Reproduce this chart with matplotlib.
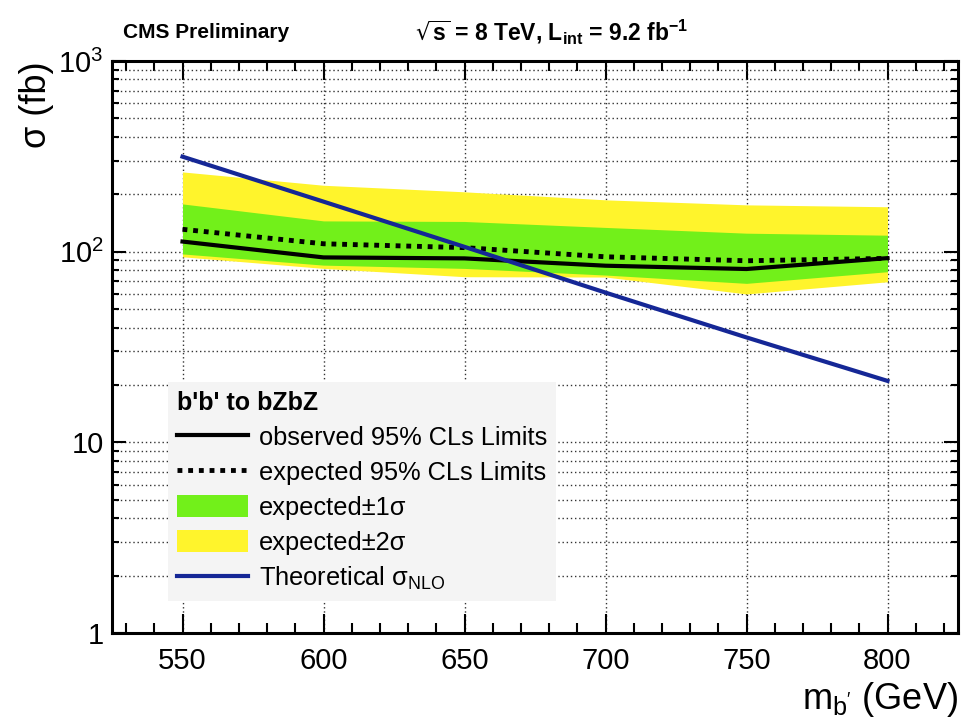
import matplotlib
matplotlib.use("Agg")
import matplotlib.pyplot as plt
from matplotlib.ticker import FixedLocator, LogLocator, NullFormatter, FuncFormatter
import numpy as np

plt.rcParams['font.family'] = ['Liberation Sans', 'DejaVu Sans']
plt.rcParams['mathtext.default'] = 'regular'

# b' mass points (GeV)
mass = [550, 600, 650, 700, 750, 800]

# 95% CLs upper limits on the cross section (fb)
observed = [113, 93.3, 92.2, 84.4, 81.1, 92.5]
expected = [131, 110, 105, 94, 89.6, 92.2]
band1_lo = [97.3, 85, 81.7, 75.4, 68.2, 78.5]
band1_hi = [178, 145, 144, 134, 125, 122]
band2_lo = [94, 81.7, 73.9, 73.6, 60, 69.5]
band2_hi = [262, 223, 206, 187, 176, 172]

# NLO theory cross section (fb)
theory = [315, 183, 106, 61, 35.5, 21]

x_ticks = [550, 600, 650, 700, 750, 800]
y_ticks = [1, 10, 100, 1000]
y_tick_labels = ['1', '10', '$10^{2}$', '$10^{3}$']

YELLOW = '#fff42c'
GREEN = '#72f01a'
BLUE = '#152796'

fig = plt.figure(figsize=(9.65, 7.27), dpi=100)
ax = fig.add_axes([112 / 965, 1 - 633 / 727, 846 / 965, 572 / 727])

ax.set_yscale('log')
ax.set_xlim(525, 825)
ax.set_ylim(1, 1000)

# dotted grid behind the bands
ax.set_axisbelow(True)
ax.xaxis.set_major_locator(FixedLocator(x_ticks))
ax.xaxis.set_minor_locator(FixedLocator(np.arange(530, 826, 10)))
ax.yaxis.set_major_locator(FixedLocator(y_ticks))
ax.yaxis.set_minor_locator(LogLocator(base=10, subs=np.arange(2, 10)))
ax.yaxis.set_major_formatter(FuncFormatter(
    lambda v, p: y_tick_labels[y_ticks.index(round(v))] if round(v) in y_ticks else ''))
ax.yaxis.set_minor_formatter(NullFormatter())

ax.grid(True, which='major', axis='x', color='0.2', linestyle=(0, (1, 2)), linewidth=1.0)
ax.grid(True, which='both', axis='y', color='0.2', linestyle=(0, (1, 2)), linewidth=1.0)

ax.fill_between(mass, band2_lo, band2_hi, color=YELLOW, linewidth=0, zorder=2,
                label='expected±2σ')
ax.fill_between(mass, band1_lo, band1_hi, color=GREEN, linewidth=0, zorder=3,
                label='expected±1σ')
ax.plot(mass, observed, color='black', linewidth=3.0, zorder=5,
        label='observed 95% CLs Limits')
ax.plot(mass, expected, color='black', linewidth=3.5, linestyle=(0, (1, 1.2)),
        dash_capstyle='butt', zorder=5, label='expected 95% CLs Limits')
ax.plot(mass, theory, color=BLUE, linewidth=3.0, zorder=6,
        label='Theoretical σ$_{NLO}$')

for s in ax.spines.values():
    s.set_linewidth(2.2)
    s.set_zorder(10)

ax.tick_params(which='both', direction='in', top=True, right=True, width=1.5,
               labelsize=21, zorder=10)
ax.tick_params(axis='x', which='major', length=14, pad=10)
ax.tick_params(axis='x', which='minor', length=7)
ax.tick_params(axis='y', which='major', length=10, pad=6)
ax.tick_params(axis='y', which='minor', length=5)

ax.set_xlabel("m$_{b'}$ (GeV)", fontsize=26, loc='right')
ax.set_ylabel('σ (fb)', fontsize=26, loc='top')
ax.yaxis.set_label_coords(-0.068, 1.0)

handles, labels = ax.get_legend_handles_labels()
order = [2, 3, 1, 0, 4]
leg = ax.legend([handles[i] for i in order], [labels[i] for i in order],
                title="b'b' to bZbZ", title_fontproperties={'weight': 'bold', 'size': 18},
                loc='upper left', bbox_to_anchor=(0.066, 0.439), borderaxespad=0,
                fontsize=18.3, frameon=True, fancybox=False, facecolor='#f4f4f4',
                edgecolor='none', framealpha=1, handlelength=2.8, handleheight=1.0,
                handletextpad=0.45, labelspacing=0.39, borderpad=0.35, alignment='left')
leg.set_zorder(20)

fig.text(123 / 965, 1 - 32 / 727, 'CMS Preliminary', fontsize=15, fontweight='bold',
         ha='left', va='center')
fig.text(415 / 965, 1 - 31 / 727, r'$\sqrt{s}$ = 8 TeV, L$_{int}$ = 9.2 fb$^{-1}$',
         fontsize=16.5, fontweight='bold', ha='left', va='center')

fig.savefig('out.png', dpi=100)
